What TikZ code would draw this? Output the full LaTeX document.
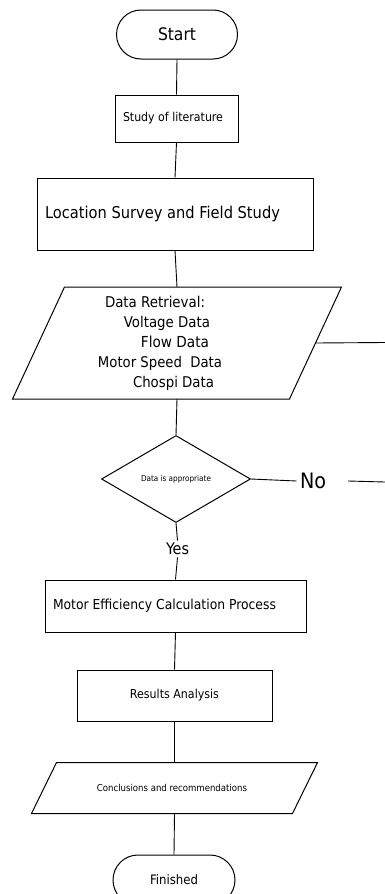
\documentclass[tikz,border=0pt]{standalone}
\usepackage{graphicx}
\usepackage{fontspec}
\setmainfont{DejaVu Sans Condensed}
\usetikzlibrary{shapes.geometric}
\newcommand{\tw}[2]{\resizebox{#1pt}{!}{#2}}
\begin{document}
\begin{tikzpicture}[x=1pt,y=-1pt,line width=1pt,
  box/.style={draw,rectangle,inner sep=0pt},
  term/.style={draw,rectangle,inner sep=0pt,rounded corners=24.5pt,minimum width=121pt,minimum height=49pt},
  slantbox/.style={rectangle,inner sep=0pt},
  decide/.style={draw,diamond,inner sep=0pt,minimum width=149pt,minimum height=87pt},
  lab/.style={inner sep=2pt},
  conn/.style={line width=0.9pt}]
\useasboundingbox (0,0) rectangle (385,894);

\node[term] (start) at (177,34.5) {\tw{38}{Start}};
\node[box,minimum width=123pt,minimum height=47pt] (study) at (176.5,118.5) {\raisebox{-2pt}{\tw{100}{Study of literature}}\kern7pt};
\node[box,minimum width=276pt,minimum height=72pt] (loc) at (175,214) {\raisebox{-3pt}{\makebox[260pt][l]{\tw{235}{Location Survey and Field Study}}}};

\node[slantbox,minimum width=276pt,minimum height=111pt,align=center,font=\fontsize{12}{20}\selectfont] (data) at (177,343)
 {\tw{100}{Data Retrieval:}\kern44pt\\
  \tw{86}{Voltage Data}\kern20pt\\
  \tw{68}{Flow Data}\kern4pt\\
  \tw{124}{Motor Speed\ \ Data}\kern34pt\\
  \tw{81}{Chospi Data}\kern7pt};
\draw ([xshift=26pt]data.north west) -- ([xshift=26pt]data.north east)
  -- ([xshift=-26pt]data.south east) -- ([xshift=-26pt]data.south west) -- cycle;

\node[decide] (dec) at (176,479) {\tw{70}{Data is appropriate}};
\node[lab,inner sep=3pt] (no) at (313,481) {\tw{26}{No}};
\coordinate (nob) at (348,481);
\coordinate (noe) at (385,482);
\coordinate (loop) at (385,342.5);
\node[lab] (yes) at (177.5,549) {\tw{23}{Yes}};

\node[box,minimum width=261pt,minimum height=52pt] (motor) at (175.5,606) {\makebox[245pt][l]{\tw{223}{Motor Efficiency Calculation Process}}};
\node[box,minimum width=195pt,minimum height=51pt] (res) at (174.5,695.5) {\raisebox{-2pt}{\tw{89}{Results Analysis}}};

\node[slantbox,minimum width=260pt,minimum height=50pt] (conc) at (174.5,788) {\tw{150}{Conclusions and recommendations}\kern5pt};
\draw ([xshift=12.5pt]conc.north west) -- ([xshift=12.5pt]conc.north east)
  -- ([xshift=-12.5pt]conc.south east) -- ([xshift=-12.5pt]conc.south west) -- cycle;

\node[term,minimum width=122pt,minimum height=50pt,rounded corners=25pt] (fin) at (174,880) {\tw{48}{Finished}};

\draw[conn] (start.south) -- (study.north);
\draw[conn] (study.south) -- (loc.north);
\draw[conn] (loc.south) -- (data.north);
\draw[conn] (data.south) -- (dec.north);
\draw[conn] (data.east) -- (loop);
\draw[conn] (dec.east) -- (no.west);
\draw[conn] (nob) -- (noe);
\draw[conn] (dec.south) -- (yes.north);
\draw[conn] (yes.south) -- (motor.north);
\draw[conn] (motor.south) -- (res.north);
\draw[conn] (res.south) -- (conc.north);
\draw[conn] (conc.south) -- (fin.north);
\end{tikzpicture}
\end{document}
